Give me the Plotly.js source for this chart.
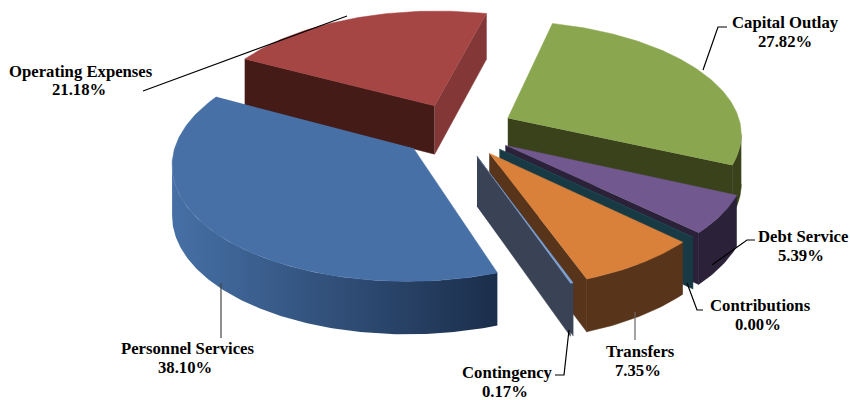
<!DOCTYPE html>
<html><head><meta charset="utf-8">
<script src="https://cdn.plot.ly/plotly-3.0.1.min.js"></script>
<style>html,body{margin:0;padding:0;background:#fff}</style></head>
<body><div id="chart" style="width:850px;height:400px"></div>
<script>
// --- data
const categories = ["Capital Outlay","Debt Service","Contributions","Transfers","Contingency","Personnel Services","Operating Expenses"];
const values = [27.82,5.39,0.00,7.35,0.17,38.10,21.18];
// --- styles, one entry per category
const topColors   = ["#8AA64E","#71588F","#2B5A66","#D9803A","#7FA0CF","#4670A6","#A54544"];
const startColors = [null,null,"#173A45",null,"#3A4255",null,"#451B18"];
const endColors   = ["#3A421C","#2B2139",null,"#57341A","#3A4255",null,"#833837"];
const sideColors  = ["#3A421C","#2B2139",null,"#57341A",null,["#4670A6","#1B2E4B"],null];
const paintOrder  = [6,0,1,2,3,4,5];
// --- label placement
const nameX  = [785,803,760,640,507,188,81];
const nameY  = [22,236,305,351,372,348,71];
const valueX = [785,801,758,638,505,185,79];
const valueY = [41,255,324,370,391,367,89];
const leaderX = [[703,718,727],[712,747,755],[687,697,703],[635,635],[569,564,555],[221,221],[347,143]];
const leaderY = [[70,27,27],[265,240,240],[283,310,310],[312,340],[330,375,375],[283,338],[16,91]];
const leaderColors = ["#000","#000","#000","#666","#000","#444","#000"];
// --- projection of the tilted disc
const cx=457.3, cy=130, rx=234, ry=112, persp=0.123, depth=49, pull=0.243, startDeg=14;
function project(u,v,z){const s=1/(1-persp*v);return [cx+rx*u*s, cy+ry*v*s+depth*z*Math.sqrt(s)];}
const total = values.reduce((a,b)=>a+b,0);
const rad = d=>d*Math.PI/180;
const traces=[];
function addPoly(pts,color){
  const t={x:pts.map(p=>p[0]),y:pts.map(p=>p[1]),type:"scatter",mode:"lines",fill:"toself",hoverinfo:"skip",showlegend:false};
  if(Array.isArray(color)){
    t.line={width:0};
    t.fillcolor=color[0];
    t.fillgradient={type:"horizontal",colorscale:[[0,color[0]],[1,color[1]]]};
  } else { t.line={width:0.5,color:color}; t.fillcolor=color; }
  traces.push(t);
}
let cum=[0];values.forEach(v=>cum.push(cum[cum.length-1]+v));
paintOrder.forEach(i=>{
  const a0=startDeg+cum[i]/total*360, a1=startDeg+cum[i+1]/total*360, mid=(a0+a1)/2;
  const ou=pull*Math.sin(rad(mid)), ov=-pull*Math.cos(rad(mid));
  const P=(deg,z)=>project(ou+Math.sin(rad(deg)),ov-Math.cos(rad(deg)),z);
  const A=z=>project(ou,ov,z);
  const n=Math.max(2,Math.ceil(a1-a0));
  const arc=(z,from=a0,to=a1)=>{const r=[];for(let k=0;k<=n;k++)r.push(P(from+(to-from)*k/n,z));return r;};
  if(startColors[i]) addPoly([A(0),P(a0,0),P(a0,1),A(1)],startColors[i]);
  if(endColors[i])   addPoly([A(0),P(a1,0),P(a1,1),A(1)],endColors[i]);
  if(sideColors[i]){
    // the visible outer wall runs between the silhouette extremes of the rim
    let f=a0, to=a1, best=-Infinity, worst=Infinity;
    for(let d=a0;d<=Math.min(a1,180);d+=0.5){const x=P(d,0)[0]; if(x>best){best=x;f=d;}}
    for(let d=Math.max(a0,180);d<=a1;d+=0.5){const x=P(d,0)[0]; if(x<worst){worst=x;to=d;}}
    if(a1<=180) to=a1;
    if(a0>=180) f=a0;
    addPoly(arc(0,f,to).concat(arc(1,f,to).reverse()),sideColors[i]);
  }
  addPoly([A(0)].concat(arc(0)),topColors[i]);
});
leaderX.forEach((xs,i)=>traces.push({x:xs,y:leaderY[i],type:"scatter",mode:"lines",hoverinfo:"skip",showlegend:false,line:{color:leaderColors[i],width:1.2}}));
const font={family:"Liberation Serif",size:16.7,color:"#000"};
const annotations=[];
categories.forEach((c,i)=>{
  annotations.push({x:nameX[i],y:nameY[i],xref:"x",yref:"y",xanchor:"center",yanchor:"middle",showarrow:false,text:"<b>"+c+"</b>",font});
  annotations.push({x:valueX[i],y:valueY[i],xref:"x",yref:"y",xanchor:"center",yanchor:"middle",showarrow:false,text:"<b>"+values[i].toFixed(2)+"%</b>",font});
});
Plotly.newPlot("chart",traces,{width:850,height:400,margin:{l:0,r:0,t:0,b:0},paper_bgcolor:"#fff",plot_bgcolor:"#fff",showlegend:false,
  xaxis:{range:[0,850],visible:false,fixedrange:true},yaxis:{range:[400,0],visible:false,fixedrange:true},annotations},{displayModeBar:false,staticPlot:true});
</script></body></html>
